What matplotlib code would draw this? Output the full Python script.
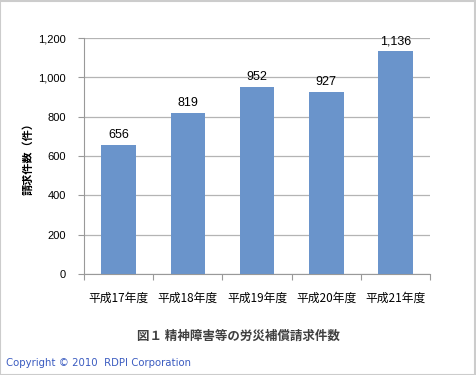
import matplotlib.pyplot as plt
from matplotlib.patches import Rectangle

plt.rcParams['font.family'] = ['Liberation Sans', 'Noto Sans CJK JP', 'DejaVu Sans']

categories = ['平成17年度', '平成18年度', '平成19年度', '平成20年度', '平成21年度']
claims = [656, 819, 952, 927, 1136]
yticks = [0, 200, 400, 600, 800, 1000, 1200]

fig = plt.figure(figsize=(4.76, 3.75), dpi=100)
ax = fig.add_axes([84 / 476, 1 - 274 / 375, 346 / 476, 236 / 375])

x = range(len(categories))
bars = ax.bar(x, claims, width=0.5, color='#6a94cb', zorder=3)
for xi, v in zip(x, claims):
    ax.text(xi, v + 18, f'{v:,}', ha='center', va='bottom', fontsize=9, color='black')

ax.set_xlim(-0.5, len(categories) - 0.5)
ax.set_ylim(0, 1200)
ax.set_yticks(yticks)
ax.set_yticklabels([f'{t:,}' for t in yticks], fontsize=8)
ax.grid(axis='y', color='#b4b4b4', linewidth=0.9, zorder=0)

# category ticks sit between the bars
ax.set_xticks([i - 0.5 for i in range(len(categories) + 1)])
ax.set_xticklabels([])
ax.set_xticks(list(x), minor=True)
ax.set_xticklabels(categories, minor=True, fontsize=8.5,
                   family=['Noto Sans CJK JP', 'DejaVu Sans'])
ax.tick_params(axis='x', which='minor', length=0, pad=13)
ax.tick_params(axis='x', which='major', length=4, color='#999999', direction='out')
ax.tick_params(axis='y', length=4, color='#999999', direction='out', pad=9)

for side in ['top', 'right']:
    ax.spines[side].set_visible(False)
for side in ['left', 'bottom']:
    ax.spines[side].set_color('#999999')

ax.set_ylabel('請求件数（件）', family=['Noto Sans CJK JP', 'DejaVu Sans'],
              fontsize=8, fontweight='bold', labelpad=3)

fig.text(0.5, 1 - 336 / 375, '図１ 精神障害等の労災補償請求件数', ha='center', va='center',
         fontsize=9, fontweight='bold', color='#404040',
         family=['Noto Sans CJK JP', 'DejaVu Sans'])
fig.text(6 / 476, 1 - 363 / 375, 'Copyright © 2010  RDPI Corporation', ha='left',
         va='center', fontsize=7.3, color='#3a5bc0', family=['DejaVu Sans'])

fig.patches.append(Rectangle((0.001, 0.001), 0.997, 0.997, transform=fig.transFigure,
                             fill=False, edgecolor='#cccccc', linewidth=1.5))

fig.savefig('out.png', dpi=100)
